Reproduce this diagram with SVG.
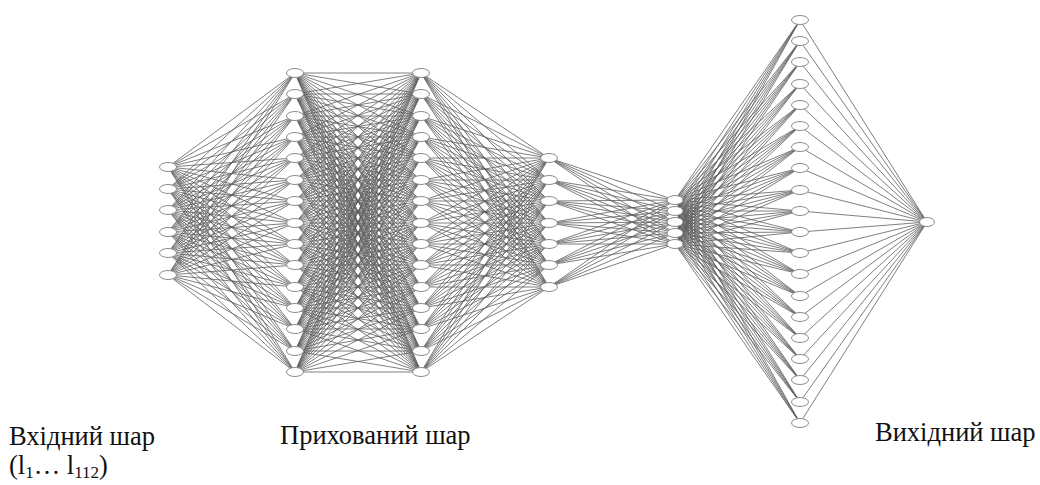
<svg xmlns="http://www.w3.org/2000/svg" width="1040" height="485" viewBox="0 0 1040 485">
<style>
.e{fill:none;stroke:#5e5e5e;stroke-width:0.8}
.n{fill:#fff;stroke:#8c8c8c;stroke-width:1}
.t{font-family:"Liberation Serif","Times New Roman",serif;font-size:26.5px;fill:#111}
.s{font-size:17px}
</style>
<rect width="1040" height="485" fill="#fff"/>
<g id="connectors" class="e">
<path d="M168 167L295 73M168 167L295 94M168 167L295 116M168 167L295 137M168 167L295 158M168 167L295 180M168 167L295 201M168 167L295 223M168 167L295 244M168 167L295 265M168 167L295 287M168 167L295 308M168 167L295 329M168 167L295 351M168 167L295 372
M168 189L295 73M168 189L295 94M168 189L295 116M168 189L295 137M168 189L295 158M168 189L295 180M168 189L295 201M168 189L295 223M168 189L295 244M168 189L295 265M168 189L295 287M168 189L295 308M168 189L295 329M168 189L295 351M168 189L295 372
M168 210L295 73M168 210L295 94M168 210L295 116M168 210L295 137M168 210L295 158M168 210L295 180M168 210L295 201M168 210L295 223M168 210L295 244M168 210L295 265M168 210L295 287M168 210L295 308M168 210L295 329M168 210L295 351M168 210L295 372
M168 232L295 73M168 232L295 94M168 232L295 116M168 232L295 137M168 232L295 158M168 232L295 180M168 232L295 201M168 232L295 223M168 232L295 244M168 232L295 265M168 232L295 287M168 232L295 308M168 232L295 329M168 232L295 351M168 232L295 372
M168 253L295 73M168 253L295 94M168 253L295 116M168 253L295 137M168 253L295 158M168 253L295 180M168 253L295 201M168 253L295 223M168 253L295 244M168 253L295 265M168 253L295 287M168 253L295 308M168 253L295 329M168 253L295 351M168 253L295 372
M168 275L295 73M168 275L295 94M168 275L295 116M168 275L295 137M168 275L295 158M168 275L295 180M168 275L295 201M168 275L295 223M168 275L295 244M168 275L295 265M168 275L295 287M168 275L295 308M168 275L295 329M168 275L295 351M168 275L295 372"/>
<path d="M295 73L421 73M295 73L421 94M295 73L421 116M295 73L421 137M295 73L421 158M295 73L421 180M295 73L421 201M295 73L421 223M295 73L421 244M295 73L421 265M295 73L421 287M295 73L421 308M295 73L421 329M295 73L421 351M295 73L421 372
M295 94L421 73M295 94L421 94M295 94L421 116M295 94L421 137M295 94L421 158M295 94L421 180M295 94L421 201M295 94L421 223M295 94L421 244M295 94L421 265M295 94L421 287M295 94L421 308M295 94L421 329M295 94L421 351M295 94L421 372
M295 116L421 73M295 116L421 94M295 116L421 116M295 116L421 137M295 116L421 158M295 116L421 180M295 116L421 201M295 116L421 223M295 116L421 244M295 116L421 265M295 116L421 287M295 116L421 308M295 116L421 329M295 116L421 351M295 116L421 372
M295 137L421 73M295 137L421 94M295 137L421 116M295 137L421 137M295 137L421 158M295 137L421 180M295 137L421 201M295 137L421 223M295 137L421 244M295 137L421 265M295 137L421 287M295 137L421 308M295 137L421 329M295 137L421 351M295 137L421 372
M295 158L421 73M295 158L421 94M295 158L421 116M295 158L421 137M295 158L421 158M295 158L421 180M295 158L421 201M295 158L421 223M295 158L421 244M295 158L421 265M295 158L421 287M295 158L421 308M295 158L421 329M295 158L421 351M295 158L421 372
M295 180L421 73M295 180L421 94M295 180L421 116M295 180L421 137M295 180L421 158M295 180L421 180M295 180L421 201M295 180L421 223M295 180L421 244M295 180L421 265M295 180L421 287M295 180L421 308M295 180L421 329M295 180L421 351M295 180L421 372
M295 201L421 73M295 201L421 94M295 201L421 116M295 201L421 137M295 201L421 158M295 201L421 180M295 201L421 201M295 201L421 223M295 201L421 244M295 201L421 265M295 201L421 287M295 201L421 308M295 201L421 329M295 201L421 351M295 201L421 372
M295 223L421 73M295 223L421 94M295 223L421 116M295 223L421 137M295 223L421 158M295 223L421 180M295 223L421 201M295 223L421 223M295 223L421 244M295 223L421 265M295 223L421 287M295 223L421 308M295 223L421 329M295 223L421 351M295 223L421 372
M295 244L421 73M295 244L421 94M295 244L421 116M295 244L421 137M295 244L421 158M295 244L421 180M295 244L421 201M295 244L421 223M295 244L421 244M295 244L421 265M295 244L421 287M295 244L421 308M295 244L421 329M295 244L421 351M295 244L421 372
M295 265L421 73M295 265L421 94M295 265L421 116M295 265L421 137M295 265L421 158M295 265L421 180M295 265L421 201M295 265L421 223M295 265L421 244M295 265L421 265M295 265L421 287M295 265L421 308M295 265L421 329M295 265L421 351M295 265L421 372
M295 287L421 73M295 287L421 94M295 287L421 116M295 287L421 137M295 287L421 158M295 287L421 180M295 287L421 201M295 287L421 223M295 287L421 244M295 287L421 265M295 287L421 287M295 287L421 308M295 287L421 329M295 287L421 351M295 287L421 372
M295 308L421 73M295 308L421 94M295 308L421 116M295 308L421 137M295 308L421 158M295 308L421 180M295 308L421 201M295 308L421 223M295 308L421 244M295 308L421 265M295 308L421 287M295 308L421 308M295 308L421 329M295 308L421 351M295 308L421 372
M295 329L421 73M295 329L421 94M295 329L421 116M295 329L421 137M295 329L421 158M295 329L421 180M295 329L421 201M295 329L421 223M295 329L421 244M295 329L421 265M295 329L421 287M295 329L421 308M295 329L421 329M295 329L421 351M295 329L421 372
M295 351L421 73M295 351L421 94M295 351L421 116M295 351L421 137M295 351L421 158M295 351L421 180M295 351L421 201M295 351L421 223M295 351L421 244M295 351L421 265M295 351L421 287M295 351L421 308M295 351L421 329M295 351L421 351M295 351L421 372
M295 372L421 73M295 372L421 94M295 372L421 116M295 372L421 137M295 372L421 158M295 372L421 180M295 372L421 201M295 372L421 223M295 372L421 244M295 372L421 265M295 372L421 287M295 372L421 308M295 372L421 329M295 372L421 351M295 372L421 372"/>
<path d="M549 158L421 73M549 158L421 94M549 158L421 116M549 158L421 137M549 158L421 158M549 158L421 180M549 158L421 201M549 158L421 223M549 158L421 244M549 158L421 265M549 158L421 287M549 158L421 308M549 158L421 329M549 158L421 351M549 158L421 372
M549 180L421 73M549 180L421 94M549 180L421 116M549 180L421 137M549 180L421 158M549 180L421 180M549 180L421 201M549 180L421 223M549 180L421 244M549 180L421 265M549 180L421 287M549 180L421 308M549 180L421 329M549 180L421 351M549 180L421 372
M549 201L421 73M549 201L421 94M549 201L421 116M549 201L421 137M549 201L421 158M549 201L421 180M549 201L421 201M549 201L421 223M549 201L421 244M549 201L421 265M549 201L421 287M549 201L421 308M549 201L421 329M549 201L421 351M549 201L421 372
M549 223L421 73M549 223L421 94M549 223L421 116M549 223L421 137M549 223L421 158M549 223L421 180M549 223L421 201M549 223L421 223M549 223L421 244M549 223L421 265M549 223L421 287M549 223L421 308M549 223L421 329M549 223L421 351M549 223L421 372
M549 244L421 73M549 244L421 94M549 244L421 116M549 244L421 137M549 244L421 158M549 244L421 180M549 244L421 201M549 244L421 223M549 244L421 244M549 244L421 265M549 244L421 287M549 244L421 308M549 244L421 329M549 244L421 351M549 244L421 372
M549 265L421 73M549 265L421 94M549 265L421 116M549 265L421 137M549 265L421 158M549 265L421 180M549 265L421 201M549 265L421 223M549 265L421 244M549 265L421 265M549 265L421 287M549 265L421 308M549 265L421 329M549 265L421 351M549 265L421 372
M549 287L421 73M549 287L421 94M549 287L421 116M549 287L421 137M549 287L421 158M549 287L421 180M549 287L421 201M549 287L421 223M549 287L421 244M549 287L421 265M549 287L421 287M549 287L421 308M549 287L421 329M549 287L421 351M549 287L421 372"/>
<path d="M549 158L675 200M549 158L675 211M549 158L675 222M549 158L675 233M549 158L675 244
M549 180L675 200M549 180L675 211M549 180L675 222M549 180L675 233M549 180L675 244
M549 201L675 200M549 201L675 211M549 201L675 222M549 201L675 233M549 201L675 244
M549 223L675 200M549 223L675 211M549 223L675 222M549 223L675 233M549 223L675 244
M549 244L675 200M549 244L675 211M549 244L675 222M549 244L675 233M549 244L675 244
M549 265L675 200M549 265L675 211M549 265L675 222M549 265L675 233M549 265L675 244
M549 287L675 200M549 287L675 211M549 287L675 222M549 287L675 233M549 287L675 244"/>
<path d="M675 200L800 20M675 200L800 41M675 200L800 62M675 200L800 84M675 200L800 105M675 200L800 126M675 200L800 147M675 200L800 168M675 200L800 190M675 200L800 211M675 200L800 232M675 200L800 253M675 200L800 274M675 200L800 296M675 200L800 317M675 200L800 338M675 200L800 359M675 200L800 380M675 200L800 402M675 200L800 423
M675 211L800 20M675 211L800 41M675 211L800 62M675 211L800 84M675 211L800 105M675 211L800 126M675 211L800 147M675 211L800 168M675 211L800 190M675 211L800 211M675 211L800 232M675 211L800 253M675 211L800 274M675 211L800 296M675 211L800 317M675 211L800 338M675 211L800 359M675 211L800 380M675 211L800 402M675 211L800 423
M675 222L800 20M675 222L800 41M675 222L800 62M675 222L800 84M675 222L800 105M675 222L800 126M675 222L800 147M675 222L800 168M675 222L800 190M675 222L800 211M675 222L800 232M675 222L800 253M675 222L800 274M675 222L800 296M675 222L800 317M675 222L800 338M675 222L800 359M675 222L800 380M675 222L800 402M675 222L800 423
M675 233L800 20M675 233L800 41M675 233L800 62M675 233L800 84M675 233L800 105M675 233L800 126M675 233L800 147M675 233L800 168M675 233L800 190M675 233L800 211M675 233L800 232M675 233L800 253M675 233L800 274M675 233L800 296M675 233L800 317M675 233L800 338M675 233L800 359M675 233L800 380M675 233L800 402M675 233L800 423
M675 244L800 20M675 244L800 41M675 244L800 62M675 244L800 84M675 244L800 105M675 244L800 126M675 244L800 147M675 244L800 168M675 244L800 190M675 244L800 211M675 244L800 232M675 244L800 253M675 244L800 274M675 244L800 296M675 244L800 317M675 244L800 338M675 244L800 359M675 244L800 380M675 244L800 402M675 244L800 423"/>
<path d="M927 222L800 20M927 222L800 41M927 222L800 62M927 222L800 84M927 222L800 105M927 222L800 126M927 222L800 147M927 222L800 168M927 222L800 190M927 222L800 211M927 222L800 232M927 222L800 253M927 222L800 274M927 222L800 296M927 222L800 317M927 222L800 338M927 222L800 359M927 222L800 380M927 222L800 402M927 222L800 423"/>
</g>
<g id="input-layer" class="n">
<ellipse id="in1" cx="168" cy="167" rx="8.5" ry="4.5"/>
<ellipse id="in2" cx="168" cy="189" rx="8.5" ry="4.5"/>
<ellipse id="in3" cx="168" cy="210" rx="8.5" ry="4.5"/>
<ellipse id="in4" cx="168" cy="232" rx="8.5" ry="4.5"/>
<ellipse id="in5" cx="168" cy="253" rx="8.5" ry="4.5"/>
<ellipse id="in6" cx="168" cy="275" rx="8.5" ry="4.5"/>
</g>
<g id="hidden-layer-1" class="n">
<ellipse cx="295" cy="73" rx="8.5" ry="4.5"/><ellipse cx="295" cy="94" rx="8.5" ry="4.5"/><ellipse cx="295" cy="116" rx="8.5" ry="4.5"/><ellipse cx="295" cy="137" rx="8.5" ry="4.5"/><ellipse cx="295" cy="158" rx="8.5" ry="4.5"/><ellipse cx="295" cy="180" rx="8.5" ry="4.5"/><ellipse cx="295" cy="201" rx="8.5" ry="4.5"/><ellipse cx="295" cy="223" rx="8.5" ry="4.5"/><ellipse cx="295" cy="244" rx="8.5" ry="4.5"/><ellipse cx="295" cy="265" rx="8.5" ry="4.5"/><ellipse cx="295" cy="287" rx="8.5" ry="4.5"/><ellipse cx="295" cy="308" rx="8.5" ry="4.5"/><ellipse cx="295" cy="329" rx="8.5" ry="4.5"/><ellipse cx="295" cy="351" rx="8.5" ry="4.5"/><ellipse cx="295" cy="372" rx="8.5" ry="4.5"/>
</g>
<g id="hidden-layer-2" class="n">
<ellipse cx="421" cy="73" rx="8.5" ry="4.5"/><ellipse cx="421" cy="94" rx="8.5" ry="4.5"/><ellipse cx="421" cy="116" rx="8.5" ry="4.5"/><ellipse cx="421" cy="137" rx="8.5" ry="4.5"/><ellipse cx="421" cy="158" rx="8.5" ry="4.5"/><ellipse cx="421" cy="180" rx="8.5" ry="4.5"/><ellipse cx="421" cy="201" rx="8.5" ry="4.5"/><ellipse cx="421" cy="223" rx="8.5" ry="4.5"/><ellipse cx="421" cy="244" rx="8.5" ry="4.5"/><ellipse cx="421" cy="265" rx="8.5" ry="4.5"/><ellipse cx="421" cy="287" rx="8.5" ry="4.5"/><ellipse cx="421" cy="308" rx="8.5" ry="4.5"/><ellipse cx="421" cy="329" rx="8.5" ry="4.5"/><ellipse cx="421" cy="351" rx="8.5" ry="4.5"/><ellipse cx="421" cy="372" rx="8.5" ry="4.5"/>
</g>
<g id="hidden-layer-3" class="n">
<ellipse cx="549" cy="158" rx="8.5" ry="4.5"/><ellipse cx="549" cy="180" rx="8.5" ry="4.5"/><ellipse cx="549" cy="201" rx="8.5" ry="4.5"/><ellipse cx="549" cy="223" rx="8.5" ry="4.5"/><ellipse cx="549" cy="244" rx="8.5" ry="4.5"/><ellipse cx="549" cy="265" rx="8.5" ry="4.5"/><ellipse cx="549" cy="287" rx="8.5" ry="4.5"/>
</g>
<g id="hidden-layer-4" class="n">
<ellipse cx="675" cy="200" rx="8" ry="4.5"/><ellipse cx="675" cy="211" rx="8" ry="4.5"/><ellipse cx="675" cy="222" rx="8" ry="4.5"/><ellipse cx="675" cy="233" rx="8" ry="4.5"/><ellipse cx="675" cy="244" rx="8" ry="4.5"/>
</g>
<g id="hidden-layer-5" class="n">
<ellipse cx="800" cy="20" rx="8.5" ry="4.5"/><ellipse cx="800" cy="41" rx="8.5" ry="4.5"/><ellipse cx="800" cy="62" rx="8.5" ry="4.5"/><ellipse cx="800" cy="84" rx="8.5" ry="4.5"/><ellipse cx="800" cy="105" rx="8.5" ry="4.5"/><ellipse cx="800" cy="126" rx="8.5" ry="4.5"/><ellipse cx="800" cy="147" rx="8.5" ry="4.5"/><ellipse cx="800" cy="168" rx="8.5" ry="4.5"/><ellipse cx="800" cy="190" rx="8.5" ry="4.5"/><ellipse cx="800" cy="211" rx="8.5" ry="4.5"/><ellipse cx="800" cy="232" rx="8.5" ry="4.5"/><ellipse cx="800" cy="253" rx="8.5" ry="4.5"/><ellipse cx="800" cy="274" rx="8.5" ry="4.5"/><ellipse cx="800" cy="296" rx="8.5" ry="4.5"/><ellipse cx="800" cy="317" rx="8.5" ry="4.5"/><ellipse cx="800" cy="338" rx="8.5" ry="4.5"/><ellipse cx="800" cy="359" rx="8.5" ry="4.5"/><ellipse cx="800" cy="380" rx="8.5" ry="4.5"/><ellipse cx="800" cy="402" rx="8.5" ry="4.5"/><ellipse cx="800" cy="423" rx="8.5" ry="4.5"/>
</g>
<g id="output-layer" class="n">
<ellipse cx="927" cy="222" rx="7.5" ry="4.5"/>
</g>
<g id="labels" class="t">
<text x="9" y="445">Вхідний шар</text>
<text x="9" y="474">(l<tspan class="s" dy="4">1</tspan><tspan dy="-4">… l</tspan><tspan class="s" dy="4">112</tspan><tspan dy="-4">)</tspan></text>
<text x="280" y="444">Прихований шар</text>
<text x="875" y="441">Вихідний шар</text>
</g>
</svg>
